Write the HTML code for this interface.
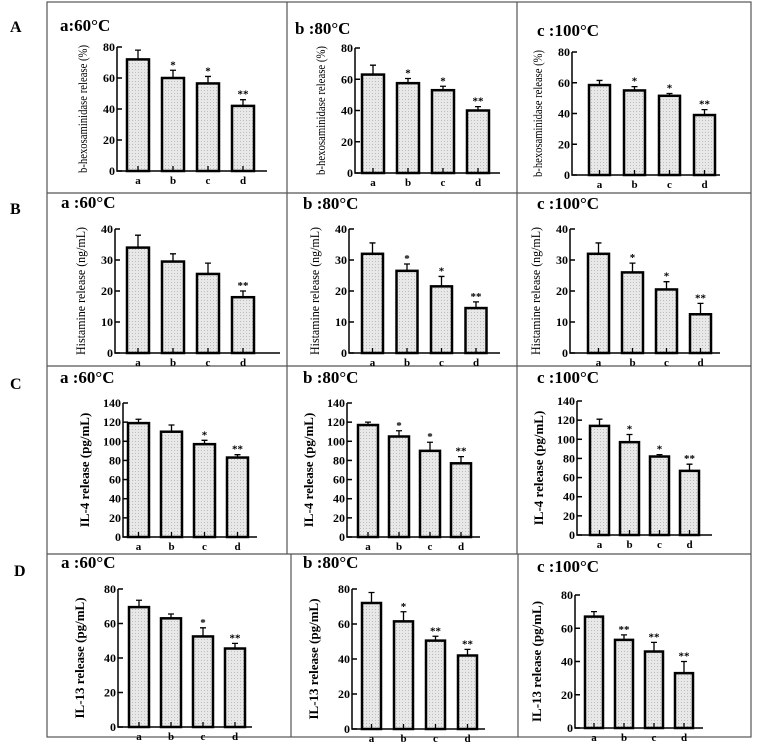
<!DOCTYPE html>
<html><head><meta charset="utf-8">
<style>
html,body{margin:0;padding:0;background:#fff;}
svg{display:block;}
svg text{font-family:"Liberation Serif","Times New Roman",serif;}
</style></head>
<body>
<svg id="fig" width="757" height="749" viewBox="0 0 757 749" font-family="Liberation Serif, serif">
<defs>
<pattern id="dots" width="3" height="3" patternUnits="userSpaceOnUse">
<rect width="3" height="3" fill="#e8e8e8"/><rect width="1" height="1" fill="#bdbdbd"/>
</pattern>
</defs>
<g stroke="#555" stroke-width="1.2" fill="none">
<rect x="47" y="2" width="704" height="735"/>
<line x1="47" y1="193" x2="751" y2="193"/>
<line x1="47" y1="366" x2="751" y2="366"/>
<line x1="47" y1="554" x2="751" y2="554"/>
<line x1="287" y1="2" x2="287" y2="554"/>
<line x1="517" y1="2" x2="517" y2="554"/>
<line x1="291" y1="554" x2="291" y2="737"/>
<line x1="518" y1="554" x2="518" y2="737"/>
</g>
<g font-weight="bold" font-size="16">
<text x="10" y="32">A</text>
<text x="10" y="214">B</text>
<text x="10" y="389">C</text>
<text x="14" y="576">D</text>
</g>
</svg>
<script>
const categories = ["a","b","c","d"];
const a1Values = [72,60,56.5,42], a1Err = [6,5,4.5,4], a1Stars = ["","*","*","**"];
const a2Values = [63,57.5,53,40], a2Err = [6,3,2.5,2.5], a2Stars = ["","*","*","**"];
const a3Values = [58.5,55,51.5,39], a3Err = [3,2.5,1.5,3.5], a3Stars = ["","*","*","**"];
const b1Values = [34,29.5,25.5,18], b1Err = [4,2.5,3.5,2], b1Stars = ["","","","**"];
const b2Values = [32,26.5,21.5,14.5], b2Err = [3.5,2.2,3.2,2], b2Stars = ["","*","*","**"];
const b3Values = [32,26,20.5,12.5], b3Err = [3.5,3,2.5,3.5], b3Stars = ["","*","*","**"];
const c1Values = [119,110,97,83], c1Err = [4,7,4,3], c1Stars = ["","","*","**"];
const c2Values = [117,105,90,77], c2Err = [3,6,9,7], c2Stars = ["","*","*","**"];
const c3Values = [114,97,82,67], c3Err = [7,8,2,7], c3Stars = ["","*","*","**"];
const d1Values = [69.5,63,52.5,45.5], d1Err = [4,2.5,5,3], d1Stars = ["","","*","**"];
const d2Values = [72,61.5,50.5,42], d2Err = [6,5.5,2.5,3.5], d2Stars = ["","*","**","**"];
const d3Values = [67,53,46,33], d3Err = [3,3,5.5,7], d3Stars = ["","**","**","**"];
const hexTicks = [0,20,40,60,80];
const histTicks = [0,10,20,30,40];
const il4Ticks = [0,20,40,60,80,100,120,140];
const il13Ticks = [0,20,40,60,80];

const NS="http://www.w3.org/2000/svg";
const svg=document.getElementById('fig');
function mk(tag,attrs,parent,txt){const e=document.createElementNS(NS,tag);for(const k in attrs)e.setAttribute(k,attrs[k]);if(txt!==undefined)e.textContent=txt;parent.appendChild(e);return e;}
const FF="Liberation Serif, serif";

const panels=[
 {id:"a1",title:"a:60°C",tx:60,ty:31,ax:117,top:47,bot:171,b0:127,bw:22,step:35,end:267,v:a1Values,e:a1Err,s:a1Stars,t:hexTicks,yt:"b-hexosaminidase release (%)",ytBold:false,ytSize:13},
 {id:"a2",title:"b :80°C",tx:295,ty:34,ax:355,top:48,bot:173,b0:362,bw:22,step:35,end:500,v:a2Values,e:a2Err,s:a2Stars,t:hexTicks,yt:"b-hexosaminidase release (%)",ytBold:false,ytSize:13},
 {id:"a3",title:"c :100°C",tx:537,ty:36,ax:572,top:52,bot:175,b0:589,bw:21,step:35,end:720,v:a3Values,e:a3Err,s:a3Stars,t:hexTicks,yt:"b-hexosaminidase release (%)",ytBold:false,ytSize:13},
 {id:"b1",title:"a :60°C",tx:61,ty:208,ax:115,top:229,bot:353,b0:127,bw:22,step:35,end:280,v:b1Values,e:b1Err,s:b1Stars,t:histTicks,yt:"Histamine release (ng/mL)",ytBold:false,ytSize:13},
 {id:"b2",title:"b :80°C",tx:303,ty:209,ax:349,top:229,bot:353,b0:362,bw:21,step:34.5,end:500,v:b2Values,e:b2Err,s:b2Stars,t:histTicks,yt:"Histamine release (ng/mL)",ytBold:false,ytSize:13},
 {id:"b3",title:"c :100°C",tx:537,ty:209,ax:570,top:229,bot:353,b0:588,bw:21,step:34,end:720,v:b3Values,e:b3Err,s:b3Stars,t:histTicks,yt:"Histamine release (ng/mL)",ytBold:false,ytSize:13},
 {id:"c1",title:"a :60°C",tx:60,ty:383,ax:123,top:403,bot:537,b0:128,bw:21,step:33,end:257,v:c1Values,e:c1Err,s:c1Stars,t:il4Ticks,yt:"IL-4 release (pg/mL)",ytBold:true,ytSize:13},
 {id:"c2",title:"b :80°C",tx:303,ty:383,ax:347,top:403,bot:537,b0:358,bw:20,step:31,end:480,v:c2Values,e:c2Err,s:c2Stars,t:il4Ticks,yt:"IL-4 release (pg/mL)",ytBold:true,ytSize:13},
 {id:"c3",title:"c :100°C",tx:537,ty:383,ax:577,top:401,bot:535,b0:590,bw:19,step:30,end:712,v:c3Values,e:c3Err,s:c3Stars,t:il4Ticks,yt:"IL-4 release (pg/mL)",ytBold:true,ytSize:13},
 {id:"d1",title:"a :60°C",tx:61,ty:568,ax:118,top:589,bot:727,b0:129,bw:20,step:32,end:252,v:d1Values,e:d1Err,s:d1Stars,t:il13Ticks,yt:"IL-13 release (pg/mL)",ytBold:true,ytSize:13},
 {id:"d2",title:"b :80°C",tx:303,ty:568,ax:352,top:589,bot:729,b0:362,bw:19,step:32,end:485,v:d2Values,e:d2Err,s:d2Stars,t:il13Ticks,yt:"IL-13 release (pg/mL)",ytBold:true,ytSize:13},
 {id:"d3",title:"c :100°C",tx:537,ty:572,ax:575,top:595,bot:728,b0:585,bw:18,step:30,end:703,v:d3Values,e:d3Err,s:d3Stars,t:il13Ticks,yt:"IL-13 release (pg/mL)",ytBold:true,ytSize:13}
];

panels.forEach(p=>{
 const g=mk('g',{},svg);
 
 
 const max=p.t[p.t.length-1];
 const y=v=>p.bot-(v/max)*(p.bot-p.top);
 const x=i=>p.b0+i*p.step;
 const tt=mk('text',{x:p.tx,y:p.ty,'font-size':17,'font-weight':'bold','font-family':FF},g,p.title);
 
 
 const yt=mk('text',{transform:`translate(${p.ax-(p.ytBold?34:30)},${(p.top+p.bot)/2}) rotate(-90)`,'text-anchor':'middle','font-size':p.ytSize,'font-weight':p.ytBold?'bold':'normal','font-family':FF},g,p.yt);
 if(!p.ytBold){yt.setAttribute('textLength',p.bot-p.top+4);yt.setAttribute('lengthAdjust','spacingAndGlyphs');}
 
 
 p.v.forEach((v,i)=>{
  const cx=x(i)+p.bw/2;
  const r=mk('rect',{x:x(i),y:y(v),width:p.bw,height:p.bot-y(v),fill:'url(#dots)',stroke:'#000','stroke-width':2.5},g);
  
  
  const eb=mk('path',{d:`M${cx},${y(v)}V${y(v+p.e[i])}M${cx-3},${y(v+p.e[i])}H${cx+3}M${cx},${p.bot}V${p.bot-5}`,stroke:'#000','stroke-width':1.3,fill:'none'},g);
  
  
  if(p.s[i]){
   const st=mk('text',{x:cx,y:y(v+p.e[i])-2,'text-anchor':'middle','font-size':11,'font-weight':'bold','font-family':FF},g,p.s[i]);
   
   
  }
  const cl=mk('text',{x:cx,y:p.bot+13,'text-anchor':'middle','font-size':11,'font-weight':'bold','font-family':FF},g,categories[i]);
  
  
 });
 const ax=mk('path',{d:`M${p.ax},${p.top}V${p.bot}H${p.end}`,stroke:'#000','stroke-width':1.5,fill:'none'},g);
 
 
 p.t.forEach(t=>{
  mk('line',{x1:p.ax,x2:p.ax+5,y1:y(t),y2:y(t),stroke:'#000','stroke-width':1.5},g);
  const tl=mk('text',{x:p.ax-2,y:y(t)+4,'text-anchor':'end','font-size':12,'font-weight':'bold','font-family':FF},g,t);
  
  
 });
});
</script>
</body></html>
